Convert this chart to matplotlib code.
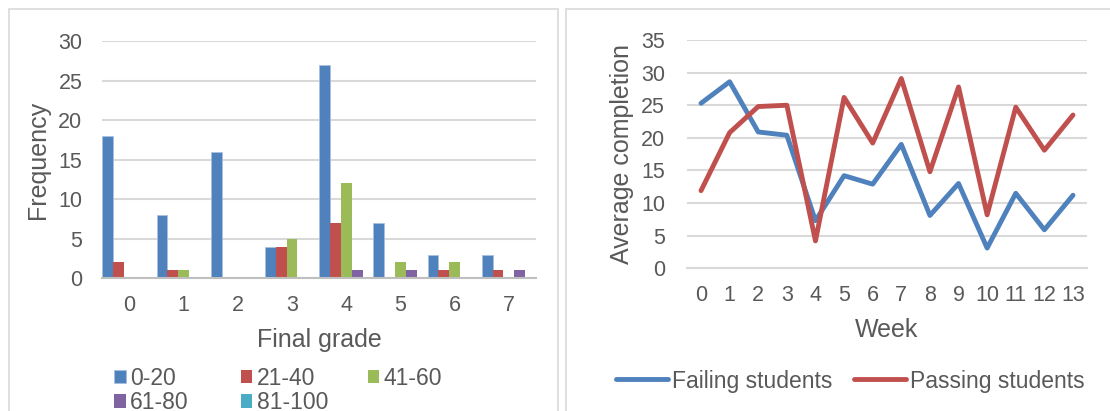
import numpy as np
import matplotlib
matplotlib.use("Agg")
import matplotlib.pyplot as plt
from matplotlib.patches import Rectangle

plt.rcParams['font.family'] = ['Liberation Sans', 'DejaVu Sans']

# left chart data
grades = ['0', '1', '2', '3', '4', '5', '6', '7']
bins = ['0-20', '21-40', '41-60', '61-80', '81-100']
freq_0_20 = [18, 8, 16, 4, 27, 7, 3, 3]
freq_21_40 = [2, 1, 0, 4, 7, 0, 1, 1]
freq_41_60 = [0, 1, 0, 5, 12, 2, 2, 0]
freq_61_80 = [0, 0, 0, 0, 1, 1, 0, 1]
freq_81_100 = [0, 0, 0, 0, 0, 0, 0, 0]

# right chart data
weeks = [str(w) for w in range(14)]
failing = [25.3, 28.6, 20.9, 20.4, 7.3, 14.2, 12.9, 19.0, 8.1, 13.0, 3.1, 11.5, 5.9, 11.2]
passing = [11.9, 20.8, 24.8, 25.0, 4.2, 26.2, 19.2, 29.1, 14.8, 27.8, 8.2, 24.7, 18.1, 23.5]

bar_colors = ['#4F81BD', '#C0504D', '#9BBB59', '#8064A2', '#4BACC6']
text_col = '#595959'
grid_col = '#D9D9D9'
W, H = 1110, 411

fig = plt.figure(figsize=(W / 100, H / 100), dpi=100)

# panel borders
fig.patches.append(Rectangle((9 / W, -0.05), 549 / W, (H - 9) / H + 0.05,
                             transform=fig.transFigure, fill=False, ec=grid_col, lw=1.2))
fig.patches.append(Rectangle((566 / W, -0.05), 560 / W, (H - 9) / H + 0.05,
                             transform=fig.transFigure, fill=False, ec=grid_col, lw=1.2))

# ---- bar chart
ax1 = fig.add_axes([102.3 / W, (H - 278.3) / H, 433.7 / W, 237.3 / H])
all_freq = [freq_0_20, freq_21_40, freq_41_60, freq_61_80, freq_81_100]
x = np.arange(len(grades))
w = 0.2
handles = []
for i, vals in enumerate(all_freq):
    b = ax1.bar(x - 0.5 + w * i + w / 2, vals, w, color=bar_colors[i], label=bins[i],
                edgecolor='#A9C1E0' if i == 0 else 'none', linewidth=0.6, zorder=3)
    handles.append(b)
ax1.set_xlim(-0.5, 7.5)
ax1.set_ylim(0, 30)
ax1.set_yticks([0, 5, 10, 15, 20, 25, 30])
ax1.set_xticks(x)
ax1.set_xticklabels(grades)
ax1.yaxis.grid(True, color=grid_col, lw=1.5, zorder=0)
ax1.set_axisbelow(True)
for s in ['left', 'right', 'top']:
    ax1.spines[s].set_visible(False)
ax1.spines['bottom'].set_color('#BFBFBF')
ax1.spines['bottom'].set_linewidth(1.5)
ax1.spines['bottom'].set_zorder(4)
ax1.tick_params(length=0, labelsize=15.5, colors=text_col)
ax1.tick_params(axis='y', pad=14.4)
ax1.tick_params(axis='x', pad=12.2)
ax1.set_xlabel('Final grade', fontsize=18, color=text_col, labelpad=8.5)
ax1.set_ylabel('Frequency', fontsize=18, color=text_col, labelpad=6)

# legend laid out in rows like the original: one legend per column
cols = [[0, 3], [1, 4], [2]]
col_x = [114.3, 240.7, 367.7]
for cx, idx in zip(col_x, cols):
    fig.legend(handles=[handles[i] for i in idx], labels=[bins[i] for i in idx],
               loc='upper left', bbox_to_anchor=(cx / W, 1 - 367 / H),
               frameon=False, fontsize=16.5, handlelength=0.5, handleheight=0.5,
               handletextpad=0.19, labelspacing=0.05, labelcolor=text_col,
               borderpad=0, borderaxespad=0)

# ---- line chart
ax2 = fig.add_axes([686.7 / W, (H - 268.3) / H, 400.6 / W, 228.3 / H])
xw = np.arange(len(weeks))
ax2.plot(xw, failing, color='#4F81BD', lw=3.5, label='Failing students', solid_joinstyle='round',
         solid_capstyle='round', zorder=3)
ax2.plot(xw, passing, color='#C0504D', lw=3.5, label='Passing students', solid_joinstyle='round',
         solid_capstyle='round', zorder=3)
ax2.set_xlim(-0.5, 13.5)
ax2.set_ylim(0, 35)
ax2.set_yticks([0, 5, 10, 15, 20, 25, 30, 35])
ax2.set_xticks(xw)
ax2.set_xticklabels(weeks)
ax2.yaxis.grid(True, color=grid_col, lw=1.5, zorder=0)
for s in ['left', 'right', 'top']:
    ax2.spines[s].set_visible(False)
ax2.spines['bottom'].set_color(grid_col)
ax2.spines['bottom'].set_linewidth(1.5)
ax2.tick_params(length=0, labelsize=15.5, colors=text_col)
ax2.tick_params(axis='y', pad=15.5)
ax2.tick_params(axis='x', pad=12.2)
ax2.set_xlabel('Week', fontsize=18, color=text_col, labelpad=8.5)
ax2.set_ylabel('Average completion', fontsize=18, color=text_col, labelpad=5)
fig.legend(*ax2.get_legend_handles_labels(), loc='center left', bbox_to_anchor=(616 / W, 1 - 381 / H),
           ncol=2, frameon=False, fontsize=16.5, handlelength=2.27, handletextpad=0.16,
           columnspacing=0.96, labelcolor=text_col, borderpad=0, borderaxespad=0)

fig.savefig('out.png', dpi=100)
